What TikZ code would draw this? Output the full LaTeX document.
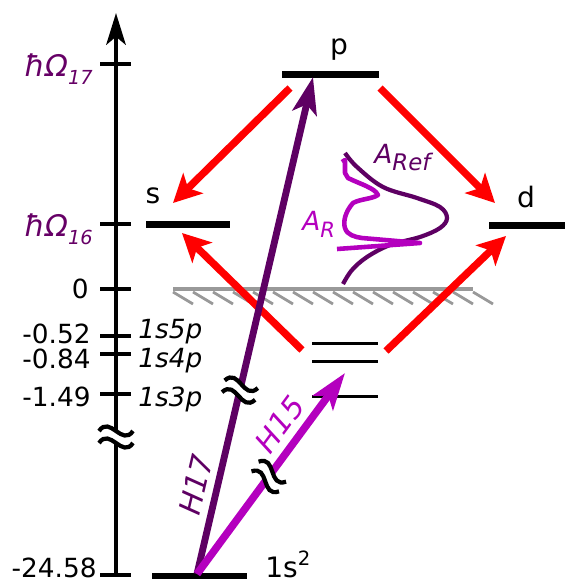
\documentclass[tikz,border=0pt]{standalone}
\usepackage{fontspec}
\setmainfont{DejaVu Sans}
\usepackage{tikz}
\usetikzlibrary{arrows.meta, calc}

\definecolor{hpurple}{HTML}{5E0063}
\definecolor{lblpurple}{HTML}{660066}
\definecolor{hmagenta}{HTML}{B400BE}
\definecolor{contgray}{HTML}{999999}

\tikzset{
  brk/.pic={
    \fill[white] (-17,-6) .. controls (-6,-22) and (6,10) .. (17,-6)
      -- (17,6) .. controls (6,22) and (-6,-10) .. (-17,6) -- cycle;
    \draw[line width=2.4pt] (-17,-6) .. controls (-6,-22) and (6,10) .. (17,-6);
    \draw[line width=2.4pt] (-17,6) .. controls (-6,-10) and (6,22) .. (17,6);
  }
}

\begin{document}
\begin{tikzpicture}[x=0.02cm, y=-0.02cm,
  font=\fontsize{15}{18}\selectfont, inner sep=0pt,
  level/.style={fill=black, inner sep=0pt, minimum height=0.14cm},
  sublevel/.style={fill=black, inner sep=0pt, minimum height=0.06cm, minimum width=1.32cm},
  tick/.style={line width=2.6pt},
  decay/.style={red, line width=4.2pt, -{Stealth[length=16pt, width=16pt, inset=4pt]}},
  harm/.style={line width=3.9pt, -{Stealth[length=21pt, width=14pt, inset=5pt]}},
  val/.style={anchor=base east},
  conf/.style={anchor=base west, font=\fontsize{15}{18}\selectfont\itshape},
  omega/.style={anchor=base east, text=lblpurple, font=\fontsize{17}{19}\selectfont\itshape},
  hlbl/.style={sloped, above=4pt, font=\fontsize{17}{19}\selectfont\itshape},
  big/.style={font=\fontsize{16}{19}\selectfont, anchor=base}
]
  \useasboundingbox (0,0) rectangle (565,579);

  % Energy axis
  \coordinate (ax0) at (116,575);
  \coordinate (ax1) at (116,13);
  \draw[line width=2.6pt, -{Stealth[length=18pt, width=11pt, inset=4.5pt]}] (ax0) -- (ax1);
  \foreach \y in {64,224,289,336,354,394,575}
    \draw[tick] (100,\y) -- (131,\y);
  \pic at (116,437) {brk};

  % Axis labels
  \node[omega] (w17) at (93,76)
    {ħΩ\raisebox{-0.3em}{\fontsize{11}{12}\selectfont 17}};
  \node[omega] (w16) at (93,236)
    {ħΩ\raisebox{-0.3em}{\fontsize{11}{12}\selectfont 16}};
  \node[val] (e0) at (89,298) {0};
  \node[val] (e5) at (91,343) {-0.52};
  \node[val] (e4) at (91,368) {-0.84};
  \node[val] (e3) at (91,406) {-1.49};
  \node[val] (eg) at (97,577) {-24.58};
  \node[conf] (n5) at (138,338) {1s5p};
  \node[conf] (n4) at (138,367) {1s4p};
  \node[conf] (n3) at (138,406) {1s3p};

  % Levels
  \node[level, minimum width=1.94cm] (p) at (330.5,74.5) {};
  \node[level, minimum width=1.68cm] (s) at (188,224.5) {};
  \node[level, minimum width=1.54cm] (d) at (527,225) {};
  \node[level, minimum width=1.92cm] (g) at (199.5,576) {};
  \node[sublevel] (l5) at (345,343) {};
  \node[sublevel] (l4) at (345,361) {};
  \node[sublevel] (l3) at (345,396) {};
  \node[big] (plbl) at (339,54) {p};
  \node[big] (slbl) at (153,203) {s};
  \node[big] (dlbl) at (526,207) {d};
  \node[big, anchor=base west] (glbl) at (265,577) {1s\textsuperscript{2}};

  % Continuum
  \draw[contgray, line width=2.4pt] (173,289) -- (473,289);
  \foreach \k in {0,...,15}
    \draw[contgray, line width=1.6pt] (173+20*\k,292) -- ++(20,12);

  % Decay paths
  \coordinate (p-sw) at (290,88);
  \coordinate (s-ne) at (173,203);
  \coordinate (p-se) at (380,88);
  \coordinate (d-nw) at (495,203);
  \coordinate (r-w)  at (302,350);
  \coordinate (s-se) at (182,233);
  \coordinate (r-e)  at (386,351);
  \coordinate (d-sw) at (506,236);
  \draw[decay] (p-sw) -- (s-ne);
  \draw[decay] (p-se) -- (d-nw);
  \draw[decay] (r-w) -- (s-se);
  \draw[decay] (r-e) -- (d-sw);

  % Harmonics
  \coordinate (g-up) at (197,574);
  \coordinate (p-in) at (313,77);
  \coordinate (r-in) at (345,373);
  \draw[harm, hpurple] (g-up) -- node[pos=0.17, hlbl, text=hpurple] (h17) {H17} (p-in);
  \pic[rotate=-13] at ($(g-up)!0.37!(p-in)$) {brk};
  \draw[harm, hmagenta, line width=4.3pt] (g-up) -- node[pos=0.68, hlbl, text=hmagenta] (h15) {H15} (r-in);
  \pic[rotate=-36] at ($(g-up)!0.485!(r-in)$) {brk};

  % Spectra
  \draw[hpurple, line width=2.4pt] plot[smooth, tension=0.6] coordinates {
    (345,153) (357,167) (383,187) (417,198) (440,207) (447,218)
    (440,228) (420,237) (390,245) (367,257) (352,270) (343,284)};
  \draw[hmagenta, line width=2.6pt, line join=round]
    (342,162) -- (345,160) -- (345,173) -- (348,178)
    .. controls (360,184) and (375,188) .. (378,195)
    .. controls (372,199) and (360,199) .. (353,203)
    .. controls (345,212) and (343,222) .. (345,228)
    .. controls (347,235) and (355,237) .. (362,238)
    -- (420,243) -- (337,249);
  \node[anchor=base west, text=hpurple, font=\fontsize{15}{18}\selectfont\itshape] (aref) at (374,163)
    {A\raisebox{-0.3em}{\fontsize{13}{15}\selectfont Ref}};
  \node[anchor=base west, text=hmagenta, font=\fontsize{15}{18}\selectfont\itshape] (ar) at (302,230)
    {A\raisebox{-0.3em}{\fontsize{12}{14}\selectfont R}};
\end{tikzpicture}
\end{document}
